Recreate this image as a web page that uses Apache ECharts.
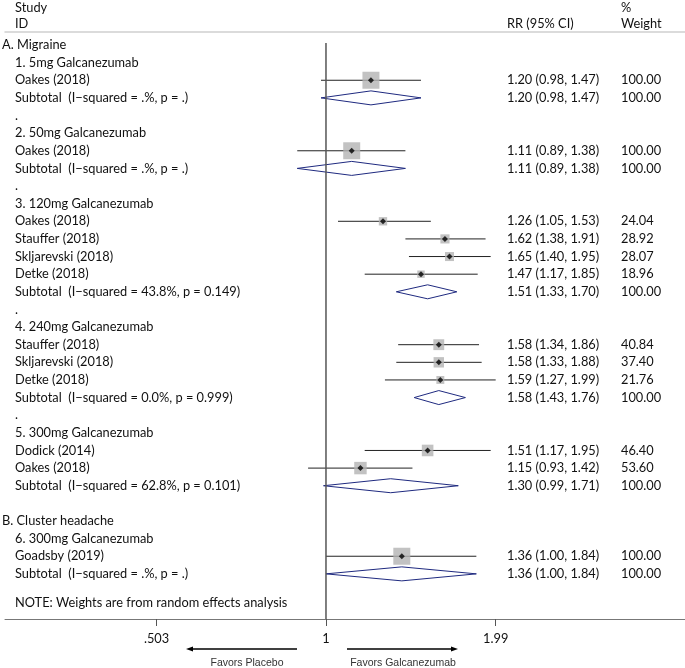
<!DOCTYPE html>
<html>
<head>
<meta charset="utf-8">
<script src="https://cdn.jsdelivr.net/npm/echarts@6/dist/echarts.min.js"></script>
<style>html,body{margin:0;padding:0;background:#fff}#c{width:685px;height:668px}</style>
</head>
<body>
<div id="c"></div>
<script>
// ---------- data ----------
const rowLabels = [
  'A. Migraine',
  '1. 5mg Galcanezumab', 'Oakes (2018)', 'Subtotal  (I\u2212squared = .%, p = .)', '.',
  '2. 50mg Galcanezumab', 'Oakes (2018)', 'Subtotal  (I\u2212squared = .%, p = .)', '.',
  '3. 120mg Galcanezumab', 'Oakes (2018)', 'Stauffer (2018)', 'Skljarevski (2018)', 'Detke (2018)',
  'Subtotal  (I\u2212squared = 43.8%, p = 0.149)', '.',
  '4. 240mg Galcanezumab', 'Stauffer (2018)', 'Skljarevski (2018)', 'Detke (2018)',
  'Subtotal  (I\u2212squared = 0.0%, p = 0.999)', '.',
  '5. 300mg Galcanezumab', 'Dodick (2014)', 'Oakes (2018)',
  'Subtotal  (I\u2212squared = 62.8%, p = 0.101)', '',
  'B. Cluster headache',
  '6. 300mg Galcanezumab', 'Goadsby (2019)', 'Subtotal  (I\u2212squared = .%, p = .)'
];
const noteText = 'NOTE: Weights are from random effects analysis';

const studyRows   = [2, 6, 10, 11, 12, 13, 17, 18, 19, 23, 24, 29];
const studyRR     = [1.20, 1.11, 1.26, 1.62, 1.65, 1.47, 1.58, 1.58, 1.59, 1.51, 1.15, 1.36];
const studyLo     = [0.98, 0.89, 1.05, 1.38, 1.40, 1.17, 1.34, 1.33, 1.27, 1.17, 0.93, 1.00];
const studyHi     = [1.47, 1.38, 1.53, 1.91, 1.95, 1.85, 1.86, 1.88, 1.99, 1.95, 1.42, 1.84];
const studyWeight = [100.00, 100.00, 24.04, 28.92, 28.07, 18.96, 40.84, 37.40, 21.76, 46.40, 53.60, 100.00];

const subRows   = [3, 7, 14, 20, 25, 30];
const subRR     = [1.20, 1.11, 1.51, 1.58, 1.30, 1.36];
const subLo     = [0.98, 0.89, 1.33, 1.43, 0.99, 1.00];
const subHi     = [1.47, 1.38, 1.70, 1.76, 1.71, 1.84];
const subWeight = [100.00, 100.00, 100.00, 100.00, 100.00, 100.00];

const tickValues = [0.503, 1, 1.99];
const tickLabels = ['.503', '1', '1.99'];
const nullValue = 1;

// ---------- helpers ----------
const FONT = 'Lato';
const FS = 12.8;
const TXT = '#111';
const ciText = (r, l, h) => r.toFixed(2) + ' (' + l.toFixed(2) + ', ' + h.toFixed(2) + ')';

const textRows = [];
rowLabels.forEach((t, i) => { if (t) textRows.push([i, t, /^[AB]\./.test(t) ? 'head' : 'left']); });
textRows.push([31.65, noteText, 'left']);
studyRows.forEach((r, i) => {
  textRows.push([r, ciText(studyRR[i], studyLo[i], studyHi[i]), 'rr']);
  textRows.push([r, studyWeight[i].toFixed(2), 'wt']);
});
subRows.forEach((r, i) => {
  textRows.push([r, ciText(subRR[i], subLo[i], subHi[i]), 'rr']);
  textRows.push([r, subWeight[i].toFixed(2), 'wt']);
});
// column headers
textRows.push([-2.13, 'Study', 'left']);
textRows.push([-1.22, 'ID', 'left']);
textRows.push([-1.22, 'RR (95% CI)', 'rr']);
textRows.push([-2.13, '%', 'wt']);
textRows.push([-1.22, 'Weight', 'wt']);

const colX = { head: 2, left: 15, rr: 507, wt: 621 };

const chart = echarts.init(document.getElementById('c'), null, { renderer: 'canvas' });

const option = {
  animation: false,
  backgroundColor: '#fff',
  grid: { left: 5, right: 0, top: 32, bottom: 49, containLabel: false },
  xAxis: [{
    type: 'log',
    logBase: Math.E,
    min: 0.2721,
    max: 4.288,
    position: 'bottom',
    axisLine: { show: true, onZero: false, lineStyle: { color: '#777', width: 1 } },
    axisTick: { show: true, length: 7, customValues: tickValues, lineStyle: { color: '#555', width: 1 } },
    axisLabel: {
      customValues: tickValues,
      formatter: v => tickLabels[tickValues.findIndex(t => Math.abs(t - v) < 1e-6)] ?? '',
      fontFamily: FONT, fontSize: FS, color: TXT, margin: 13
    },
    splitLine: { show: false },
    minorTick: { show: false }
  }, {
    type: 'value',
    position: 'top',
    min: 0, max: 1,
    axisLine: { show: true, onZero: false, lineStyle: { color: '#d0d0d0', width: 1.5 } },
    axisTick: { show: false }, axisLabel: { show: false }, splitLine: { show: false }
  }],
  yAxis: {
    type: 'value', inverse: true, min: -0.737, max: 32.56,
    show: false
  },
  series: [
    // null line
    {
      type: 'line', xAxisIndex: 0, silent: true, symbol: 'none',
      lineStyle: { color: '#555', width: 1.5 },
      data: [[nullValue, -0.12], [nullValue, 32.56]]
    },
    // study squares
    {
      type: 'scatter', xAxisIndex: 0, symbol: 'rect', silent: true,
      symbolSize: (v, p) => 1.7 * Math.sqrt(studyWeight[p.dataIndex]),
      itemStyle: { color: '#b3b3b3' },
      data: studyRows.map((r, i) => [studyRR[i], r])
    },
    // CI lines
    {
      type: 'custom', xAxisIndex: 0, silent: true,
      renderItem: (params, api) => {
        const a = api.coord([api.value(0), api.value(2)]);
        const b = api.coord([api.value(1), api.value(2)]);
        return { type: 'line', shape: { x1: a[0], y1: a[1], x2: b[0], y2: b[1] },
                 style: { stroke: '#222', lineWidth: 1 } };
      },
      data: studyRows.map((r, i) => [studyLo[i], studyHi[i], r])
    },
    // point estimate markers
    {
      type: 'scatter', xAxisIndex: 0, symbol: 'diamond', symbolSize: 6, silent: true,
      itemStyle: { color: '#000' },
      data: studyRows.map((r, i) => [studyRR[i], r])
    },
    // subtotal diamonds
    {
      type: 'custom', xAxisIndex: 0, silent: true,
      renderItem: (params, api) => {
        const row = api.value(3);
        const l = api.coord([api.value(1), row]);
        const c = api.coord([api.value(0), row]);
        const h = api.coord([api.value(2), row]);
        const d = 7;
        return { type: 'polygon',
                 shape: { points: [[l[0], l[1]], [c[0], c[1] - d], [h[0], h[1]], [c[0], c[1] + d]] },
                 style: { fill: 'none', stroke: '#1f2a80', lineWidth: 1 } };
      },
      data: subRows.map((r, i) => [subRR[i], subLo[i], subHi[i], r])
    },
    // text columns
    {
      type: 'custom', xAxisIndex: 0, silent: true, clip: false,
      renderItem: (params, api) => {
        const i = params.dataIndex;
        const row = textRows[i];
        const y = api.coord([1, row[0]])[1];
        return { type: 'text', x: colX[row[2]], y: y,
                 style: { text: row[1], fontFamily: FONT, fontSize: FS, fill: TXT,
                          textAlign: 'left', textVerticalAlign: 'middle' } };
      },
      data: textRows.map(r => [1, r[0]])
    }
  ],
  graphic: [
    { type: 'line', shape: { x1: 297, y1: 649, x2: 192, y2: 649 }, style: { stroke: '#000', lineWidth: 1.3 } },
    { type: 'polygon', shape: { points: [[186, 649], [193, 646.5], [193, 651.5]] }, style: { fill: '#000' } },
    { type: 'line', shape: { x1: 347, y1: 649, x2: 452, y2: 649 }, style: { stroke: '#000', lineWidth: 1.3 } },
    { type: 'polygon', shape: { points: [[458, 649], [451, 646.5], [451, 651.5]] }, style: { fill: '#000' } },
    { type: 'text', x: 247, y: 663, style: { text: 'Favors Placebo', fontFamily: 'Liberation Sans', fontSize: 10.5, fill: '#333', textAlign: 'center', textVerticalAlign: 'middle' } },
    { type: 'text', x: 403, y: 663, style: { text: 'Favors Galcanezumab', fontFamily: 'Liberation Sans', fontSize: 10.5, fill: '#333', textAlign: 'center', textVerticalAlign: 'middle' } }
  ]
};
chart.setOption(option);
</script>
</body>
</html>
